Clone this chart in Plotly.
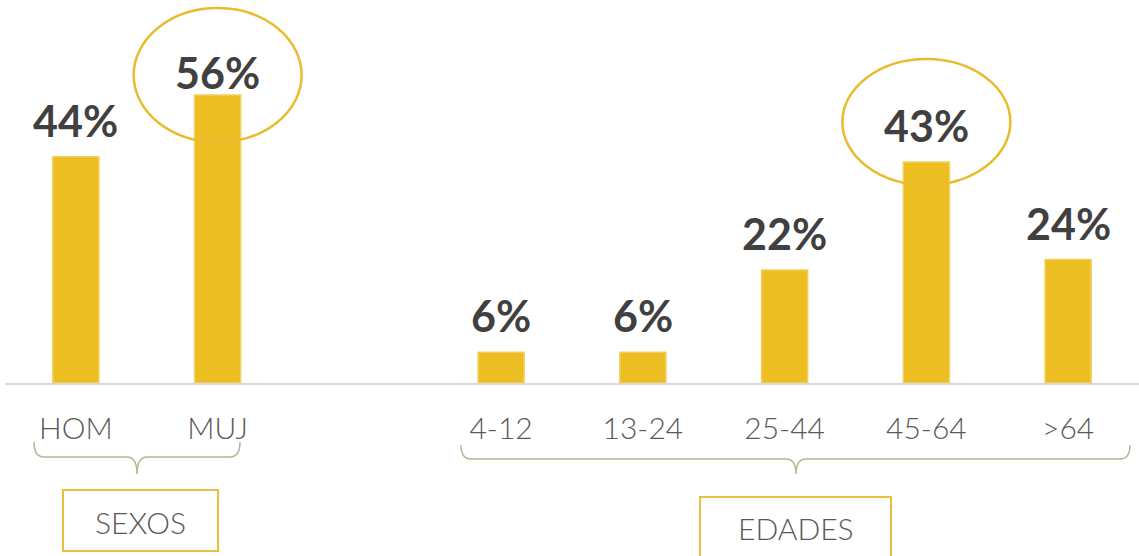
import plotly.graph_objects as go

categories = ["HOM", "MUJ", "4-12", "13-24", "25-44", "45-64", ">64"]
values = [44, 56, 6, 6, 22, 43, 24]
axis_order = ["HOM", "MUJ", " ", "4-12", "13-24", "25-44", "45-64", ">64"]
group_labels = ["SEXOS", "EDADES"]
highlighted = ["MUJ", "45-64"]

W, H = 1139, 556
ML, MR, MT, MB = 5, 0, 0, 173
PW = W - ML - MR
PH = H - MT - MB
YMAX = 74.5


def px(x):
    return (x - ML) / PW


def py(y):
    return 1 - (y - MT) / PH


def ypix(v):
    return MT + PH * (1 - v / YMAX)


def xpix(c):
    i = axis_order.index(c)
    return ML + (i + 0.5) * PW / len(axis_order)


fig = go.Figure()
fig.add_trace(go.Bar(
    x=categories, y=values, width=0.325,
    marker=dict(color="#EDBE22", line=dict(color="#F2D060", width=1.5)),
    hoverinfo="skip",
))

label_gap = {"MUJ": 5}
for c, v in zip(categories, values):
    gap = label_gap.get(c, 19)
    fig.add_annotation(x=c, y=v, xref="x", yref="y", text=f"<b>{v}%</b>",
                       showarrow=False, yanchor="bottom", yshift=gap - 10,
                       font=dict(family="Lato", size=43, color="#404040"))

# highlight ellipses around selected labels
ell_off = {"MUJ": 15, "45-64": 21}
ell_ry = {"MUJ": 67, "45-64": 63}
for c in highlighted:
    v = values[categories.index(c)]
    cx = xpix(c)
    cy = ypix(v) - label_gap.get(c, 19) - ell_off[c]
    ry = ell_ry[c]
    fig.add_shape(type="circle", xref="paper", yref="paper",
                  x0=px(cx - 84), x1=px(cx + 84), y0=py(cy + ry), y1=py(cy - ry),
                  line=dict(color="#E8BC2C", width=2.5))


def brace(x0, x1, xm, ytop, ymid, ytip):
    r = 10
    pts = [
        f"M {px(x0)},{py(ytop)}",
        f"Q {px(x0)},{py(ymid)} {px(x0 + r)},{py(ymid)}",
        f"L {px(xm - r)},{py(ymid)}",
        f"Q {px(xm)},{py(ymid)} {px(xm)},{py(ytip)}",
        f"Q {px(xm)},{py(ymid)} {px(xm + r)},{py(ymid)}",
        f"L {px(x1 - r)},{py(ymid)}",
        f"Q {px(x1)},{py(ymid)} {px(x1)},{py(ytop)}",
    ]
    return " ".join(pts)


fig.add_shape(type="path", xref="paper", yref="paper",
              path=brace(34, 240, 137, 442, 457, 474),
              line=dict(color="#A8BC94", width=1.5))
fig.add_shape(type="path", xref="paper", yref="paper",
              path=brace(461, 1130, 796, 445, 459, 474),
              line=dict(color="#A8BC94", width=1.5))

boxes = [(63, 218, 490, 551), (700, 891, 497, 562)]
text_y = [522, 528]
for (x0, x1, y0, y1), lab, ty in zip(boxes, group_labels, text_y):
    fig.add_shape(type="rect", xref="paper", yref="paper",
                  x0=px(x0), x1=px(x1), y0=py(y1), y1=py(y0),
                  line=dict(color="#E8C040", width=2), fillcolor="white")
    fig.add_annotation(x=px((x0 + x1) / 2), y=py(ty),
                       xref="paper", yref="paper", text=lab, showarrow=False,
                       xanchor="center", yanchor="middle",
                       font=dict(family="Lato", size=30, color="#595959", weight=300))

fig.update_layout(
    width=W, height=H,
    margin=dict(l=ML, r=MR, t=MT, b=MB),
    paper_bgcolor="white", plot_bgcolor="white",
    showlegend=False,
    xaxis=dict(type="category", categoryorder="array", categoryarray=axis_order,
               range=[-0.5, 7.5], showgrid=False, zeroline=False,
               showline=True, linecolor="#D9D9D9", linewidth=2,
               ticks="outside", ticklen=18, tickcolor="rgba(0,0,0,0)",
               tickfont=dict(family="Lato", size=30, color="#595959", weight=300)),
    yaxis=dict(range=[0, YMAX], visible=False),
)

fig.write_html("out.html", config={"displayModeBar": False},
               post_script="document.body.style.margin='0';document.body.style.overflow='hidden';")
